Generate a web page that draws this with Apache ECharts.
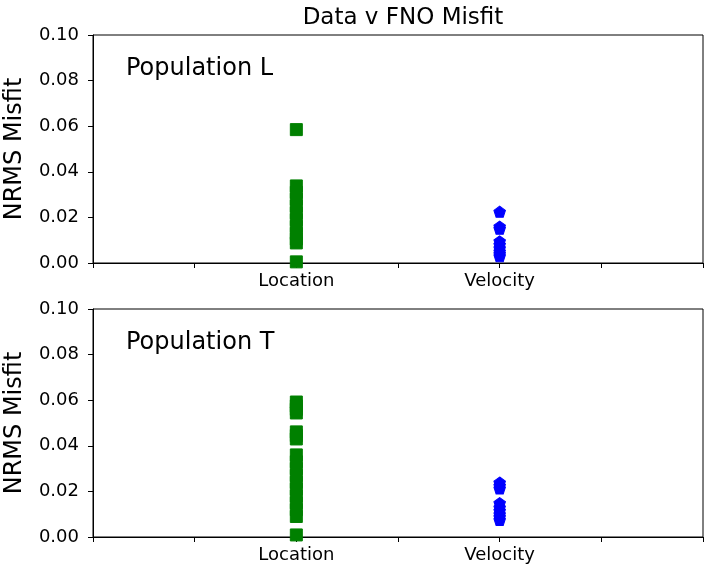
<!DOCTYPE html>
<html>
<head>
<meta charset="utf-8">
<title>Data v FNO Misfit</title>
<script src="https://cdn.jsdelivr.net/npm/echarts@6/dist/echarts.min.js"></script>
<style>
  html, body { margin: 0; padding: 0; background: #fff; }
  #chart { width: 708px; height: 569px; }
</style>
</head>
<body>
<div id="chart"></div>
<script>
// categories on the x axis (placed at x = 1, 2)
const categories = ['Location', 'Velocity']
const yTicks = [0, 0.02, 0.04, 0.06, 0.08, 0.1]

// Population L
const locationL = [0.0585, 0.0338, 0.031, 0.028, 0.025, 0.022, 0.019, 0.016, 0.013, 0.0105, 0.0088, 0.0005]
const velocityL = [0.0225, 0.016, 0.015, 0.0095, 0.008, 0.0065, 0.005, 0.004, 0.003]

// Population T
const locationT = [0.0592, 0.0575, 0.056, 0.0544, 0.0461, 0.0445, 0.043, 0.036, 0.033, 0.030, 0.027, 0.024, 0.021, 0.018, 0.015, 0.012, 0.009, 0.0009]
const velocityT = [0.0239, 0.0225, 0.0213, 0.0149, 0.013, 0.0115, 0.010, 0.0088, 0.0075]

const FONT = 'DejaVu Sans'
const pentagon = 'path://M0,-1L0.951,-0.309L0.588,0.809L-0.588,0.809L-0.951,-0.309Z'

function toPoints(idx, arr) {
  return arr.map(v => [idx + 1, v])
}

function buildX(gridIndex) {
  return {
    type: 'value',
    gridIndex,
    min: 0,
    max: 3,
    interval: 0.5,
    splitLine: { show: false },
    axisLine: { lineStyle: { color: '#000', width: 1 } },
    axisTick: { inside: false, length: 5, lineStyle: { color: '#000' } },
    axisLabel: {
      color: '#000',
      fontFamily: FONT,
      fontSize: 18,
      margin: 9,
      formatter: v => categories[v - 1] || ''
    }
  }
}

function buildY(gridIndex) {
  return {
    type: 'value',
    gridIndex,
    min: yTicks[0],
    max: yTicks[yTicks.length - 1],
    interval: 0.02,
    name: 'NRMS Misfit',
    nameLocation: 'middle',
    nameRotate: 90,
    nameGap: 66,
    nameTextStyle: { color: '#000', fontFamily: FONT, fontSize: 24 },
    splitLine: { show: false },
    axisLine: { show: true, lineStyle: { color: '#000', width: 1 } },
    axisTick: { show: true, inside: false, length: 5, lineStyle: { color: '#000' } },
    axisLabel: {
      color: '#000',
      fontFamily: FONT,
      fontSize: 18,
      margin: 14,
      formatter: v => v.toFixed(2)
    }
  }
}

// marker styles: edge drawn in the same colour so stacked markers merge into a bar
const squareStyle = { color: '#008000', borderColor: '#008000', borderWidth: 1, opacity: 1 }
const pentaStyle = { color: '#0000ff', borderColor: '#0000ff', borderWidth: 1, opacity: 1 }

const chart = echarts.init(document.getElementById('chart'))
chart.setOption({
  animation: false,
  title: {
    text: 'Data v FNO Misfit',
    left: 398,
    top: 2,
    textAlign: 'center',
    textStyle: { color: '#000', fontFamily: FONT, fontSize: 23, fontWeight: 'normal' }
  },
  grid: [
    { left: 93, top: 35, width: 610, height: 228, outerBoundsMode: 'none', containLabel: false, show: true, borderColor: '#000', borderWidth: 1 },
    { left: 93, top: 309, width: 610, height: 228, outerBoundsMode: 'none', containLabel: false, show: true, borderColor: '#000', borderWidth: 1 }
  ],
  xAxis: [buildX(0), buildX(1)],
  yAxis: [buildY(0), buildY(1)],
  graphic: [
    {
      type: 'text', left: 126, top: 57,
      style: { text: 'Population L', fill: '#000', font: '24px "DejaVu Sans"' }
    },
    {
      type: 'text', left: 126, top: 331,
      style: { text: 'Population T', fill: '#000', font: '24px "DejaVu Sans"' }
    }
  ],
  series: [
    {
      type: 'scatter', xAxisIndex: 0, yAxisIndex: 0,
      symbol: 'rect', symbolSize: 12,
      itemStyle: squareStyle,
      data: toPoints(0, locationL)
    },
    {
      type: 'scatter', xAxisIndex: 0, yAxisIndex: 0,
      symbol: pentagon, symbolSize: [11.5, 11],
      itemStyle: pentaStyle,
      data: toPoints(1, velocityL)
    },
    {
      type: 'scatter', xAxisIndex: 1, yAxisIndex: 1,
      symbol: 'rect', symbolSize: 12,
      itemStyle: squareStyle,
      data: toPoints(0, locationT)
    },
    {
      type: 'scatter', xAxisIndex: 1, yAxisIndex: 1,
      symbol: pentagon, symbolSize: [11.5, 11],
      itemStyle: pentaStyle,
      data: toPoints(1, velocityT)
    }
  ]
})
</script>
</body>
</html>
